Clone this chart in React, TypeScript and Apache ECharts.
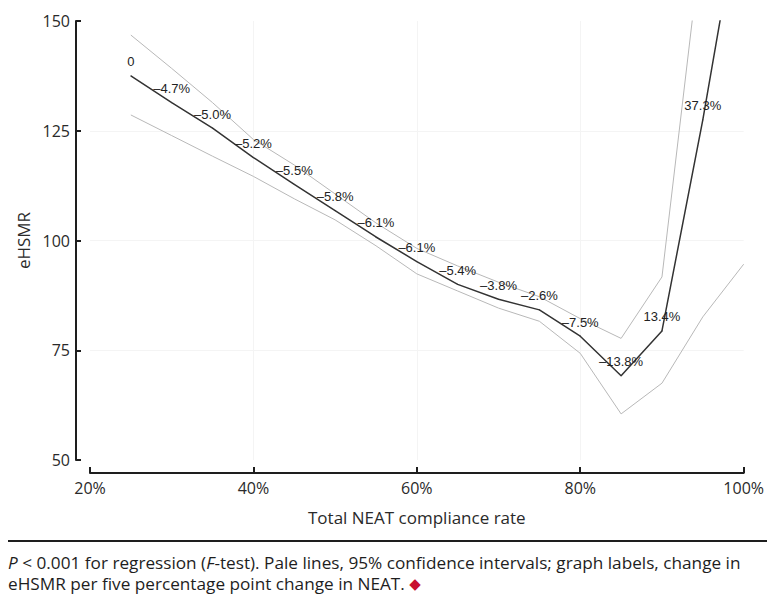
import React, { useEffect, useRef } from "react";
import * as echarts from "echarts";

// NEAT compliance rate (%) at each point
const xPct = [25, 30, 35, 40, 45, 50, 55, 60, 65, 70, 75, 80, 85, 90, 95, 100];
// eHSMR estimate
const mainV = [137.5, 131.4, 125.6, 118.9, 112.8, 106.8, 100.8, 95.2, 90.0, 86.6, 84.2, 78.2, 69.2, 79.4, 127.5, 181];
// 95% confidence interval bounds
const upperV = [146.8, 139.2, 131.4, 123.0, 117.2, 110.6, 104.0, 98.2, 94.2, 90.5, 87.2, 82.2, 77.7, 91.7, 170.5, 215];
const lowerV = [128.6, 123.9, 119.2, 114.6, 109.5, 104.7, 98.8, 92.4, 88.5, 84.6, 81.6, 74.3, 60.5, 67.5, 82.6, 94.6];
// change per five percentage point labels
const changeLabels = ["0", "–4.7%", "–5.0%", "–5.2%", "–5.5%", "–5.8%", "–6.1%", "–6.1%", "–5.4%", "–3.8%", "–2.6%", "–7.5%", "–13.8%", "13.4%", "37.3%", ""];
// axis ticks
const xTicks = [20, 40, 60, 80, 100];
const yTicks = [50, 75, 100, 125, 150];

const AXIS_FONT = "'Open Sans', 'Noto Sans', sans-serif";

export default function App() {
  const ref = useRef<HTMLDivElement>(null);
  useEffect(() => {
    if (!ref.current) return;
    const chart = echarts.init(ref.current, undefined, { renderer: "svg" });
    const pairs = (vals: number[]) => xPct.map((x, i) => [x, vals[i]]);
    const mainData = xPct.map((x, i) => {
      const item: any = { value: [x, mainV[i]] };
      if (i === 0) item.label = { offset: [6, -2] };
      return item;
    });
    chart.setOption({
      animation: false,
      backgroundColor: "#ffffff",
      grid: { left: 90, right: 22, top: 21, bottom: 144, containLabel: false },
      xAxis: {
        type: "value",
        min: xTicks[0],
        max: xTicks[xTicks.length - 1],
        interval: 20,
        offset: 13,
        name: "Total NEAT compliance rate",
        nameLocation: "middle",
        nameGap: 36,
        nameTextStyle: { fontFamily: AXIS_FONT, fontSize: 17, color: "#2a2a2a" },
        axisLine: { show: true, lineStyle: { color: "#1e1e1e", width: 2 } },
        axisTick: { show: true, inside: true, length: 6, lineStyle: { color: "#1e1e1e", width: 2 } },
        axisLabel: { formatter: "{value}%", fontFamily: AXIS_FONT, fontSize: 16, color: "#2a2a2a", margin: 7 },
        splitLine: { show: true, showMinLine: false, showMaxLine: false, lineStyle: { color: "#f4f4f4", width: 1 } },
      },
      yAxis: {
        type: "value",
        min: yTicks[0],
        max: yTicks[yTicks.length - 1],
        interval: 25,
        offset: 14,
        name: "eHSMR",
        nameLocation: "middle",
        nameGap: 42,
        nameTextStyle: { fontFamily: AXIS_FONT, fontSize: 17, color: "#2a2a2a" },
        axisLine: { show: true, lineStyle: { color: "#1e1e1e", width: 2 } },
        axisTick: { show: true, inside: true, length: 5, lineStyle: { color: "#1e1e1e", width: 2 } },
        axisLabel: { fontFamily: AXIS_FONT, fontSize: 16, color: "#2a2a2a", margin: 6 },
        splitLine: { show: true, showMinLine: false, showMaxLine: false, lineStyle: { color: "#f4f4f4", width: 1 } },
      },
      series: [
        {
          type: "line",
          data: pairs(upperV),
          symbol: "none",
          clip: true,
          lineStyle: { color: "#b8b8b8", width: 1 },
          z: 2,
        },
        {
          type: "line",
          data: pairs(lowerV),
          symbol: "none",
          clip: true,
          lineStyle: { color: "#b8b8b8", width: 1 },
          z: 2,
        },
        {
          type: "line",
          data: mainData,
          symbol: "circle",
          symbolSize: 1,
          showSymbol: true,
          clip: true,
          lineStyle: { color: "#333333", width: 1.5 },
          itemStyle: { color: "#333333" },
          label: {
            show: true,
            position: "top",
            distance: 7,
            offset: [2, 0],
            fontFamily: "'Liberation Sans', Arial, sans-serif",
            fontSize: 13,
            color: "#222222",
            formatter: (p: any) => changeLabels[p.dataIndex],
          },
          labelLayout: { hideOverlap: false },
          z: 3,
        },
      ],
      graphic: [
        {
          type: "rect",
          shape: { x: 8, y: 540, width: 759, height: 2 },
          style: { fill: "#1e1e1e" },
          silent: true,
        },
        {
          type: "text",
          x: 8,
          y: 554,
          style: {
            text: "{i|P} < 0.001 for regression ({i|F}-test). Pale lines, 95% confidence intervals; graph labels, change in",
            fontFamily: AXIS_FONT,
            fontSize: 17.2,
            fill: "#1e1e1e",
            rich: { i: { fontStyle: "italic", fontFamily: AXIS_FONT, fontSize: 17.2, fill: "#1e1e1e" } },
          },
        },
        {
          type: "text",
          x: 8,
          y: 575,
          style: {
            text: "eHSMR per five percentage point change in NEAT. {d|◆}",
            fontFamily: AXIS_FONT,
            fontSize: 17.2,
            fill: "#1e1e1e",
            rich: { d: { fontFamily: "'DejaVu Sans', sans-serif", fontSize: 15, fill: "#c8102e" } },
          },
        },
      ],
    });
    return () => chart.dispose();
  }, []);
  return (
    <div
      ref={ref}
      style={{ position: "absolute", left: 0, top: 0, width: 767, height: 604 }}
    />
  );
}
